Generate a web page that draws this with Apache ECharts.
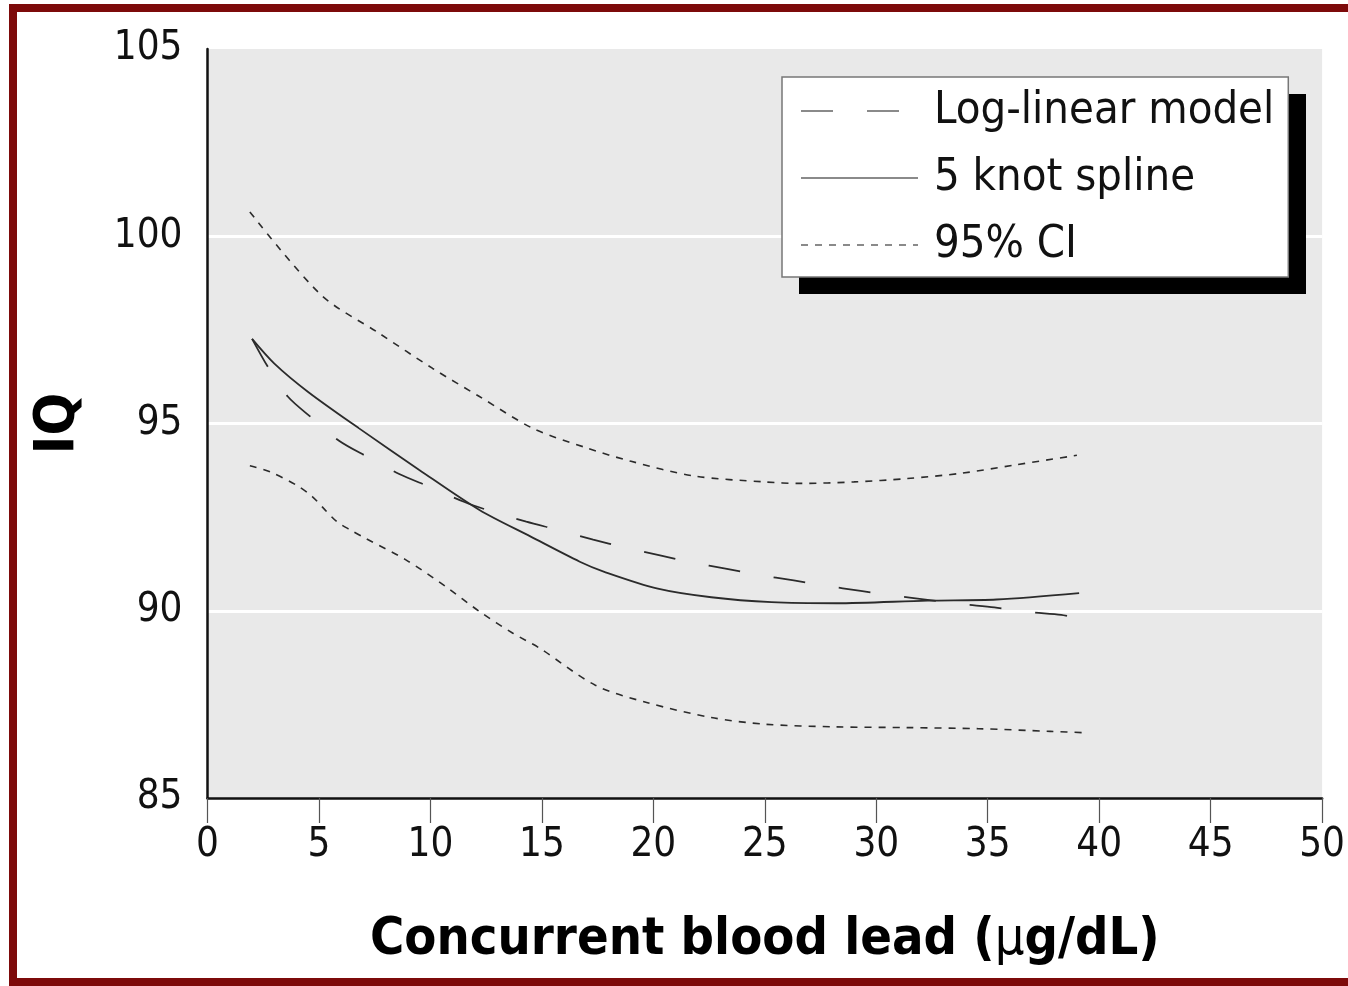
<!DOCTYPE html>
<html>
<head>
<meta charset="utf-8">
<title>IQ vs concurrent blood lead</title>
<script src="https://cdn.jsdelivr.net/npm/echarts@6/dist/echarts.min.js"></script>
<style>
  html, body { margin: 0; padding: 0; background: #fff; }
  #chart { width: 1348px; height: 986px; }
  .frame {
    position: absolute;
    left: 9px; top: 4px; width: 1339px; height: 982px;
    box-sizing: border-box;
    border-top: 8px solid #7d0a0a;
    border-left: 8px solid #7d0a0a;
    border-bottom: 8px solid #7d0a0a;
    pointer-events: none;
  }
</style>
</head>
<body>
<div id="chart"></div>
<div class="frame"></div>
<script>
// values
const splineX = [2, 3, 4.5, 6.8, 9.5, 12.2, 14.5, 16.7, 17.8, 20.2, 22.6, 25.3, 28.2, 32.3, 35.4, 39.1]
const splineY = [97.26, 96.6, 95.85, 94.87, 93.76, 92.69, 91.98, 91.31, 91.04, 90.59, 90.36, 90.23, 90.2, 90.27, 90.3, 90.47]

const logX = [2, 2.7, 3.6, 4.7, 5.9, 7.2, 8.6, 10, 11.5, 12.8, 14.3, 15.7, 17.3, 18.7, 20.3, 21.7, 23.3, 24.7, 26.3, 27.7, 29.3, 30.7, 32.3, 33.8, 35.3, 36.8, 38.3, 38.7]
const logY = [97.26, 96.52, 95.72, 95.14, 94.54, 94.1, 93.65, 93.3, 92.91, 92.64, 92.38, 92.16, 91.9, 91.69, 91.48, 91.29, 91.12, 90.96, 90.81, 90.67, 90.53, 90.41, 90.29, 90.18, 90.09, 89.97, 89.89, 89.84]

const upperX = [1.9, 5.1, 7.7, 10.1, 12.2, 14.6, 17, 19, 21.8, 25, 26.6, 29, 31.4, 33.8, 36.2, 39]
const upperY = [100.65, 98.43, 97.41, 96.47, 95.72, 94.87, 94.35, 93.99, 93.6, 93.44, 93.4, 93.44, 93.53, 93.67, 93.89, 94.15]

const lowerX = [1.9, 2.8, 4.0, 4.7, 5.2, 5.8, 6.4, 7.1, 8.9, 10.7, 12.2, 13.7, 14.9, 17.4, 19.7, 22.6, 25, 28.2, 31.4, 34.6, 37.8, 39.5]
const lowerY = [93.87, 93.71, 93.35, 93.05, 92.74, 92.38, 92.16, 91.93, 91.36, 90.64, 89.98, 89.4, 89.0, 88.01, 87.55, 87.15, 86.97, 86.9, 86.88, 86.85, 86.78, 86.74]

const legendNames = ['Log-linear model', '5 knot spline', '95% CI']

const narrow = '"Liberation Sans Narrow", "DejaVu Sans Condensed", "Arial Narrow", sans-serif'
const lineColor = '#2b2b2b'

function pairs(xs, ys) {
  return xs.map((x, i) => [x, ys[i]])
}

let chart = echarts.init(document.getElementById('chart'))
let option = {
  animation: false,
  backgroundColor: '#fff',
  grid: {
    left: 207.5,
    right: 25,
    top: 49,
    bottom: 188,
    show: true,
    backgroundColor: '#e9e9e9',
    borderWidth: 0
  },
  // drop shadow behind the legend box
  graphic: [
    {
      type: 'rect',
      z: 3,
      silent: true,
      shape: { x: 799, y: 94, width: 507, height: 200 },
      style: { fill: '#000' }
    }
  ],
  legend: {
    orient: 'vertical',
    left: 782,
    top: 77,
    z: 5,
    padding: [4, 14, 2, 18],
    itemGap: 7,
    itemWidth: 117,
    itemHeight: 14,
    backgroundColor: '#fff',
    borderColor: '#777',
    borderWidth: 1.5,
    data: legendNames,
    itemStyle: { opacity: 0, color: 'transparent', borderWidth: 0 },
    lineStyle: { color: '#8a8a8a', width: 2 },
    textStyle: {
      fontFamily: narrow,
      fontSize: 45,
      color: '#111',
      lineHeight: 60,
      padding: [0, 0, 0, 11]
    }
  },
  xAxis: {
    type: 'value',
    min: 0,
    max: 50,
    interval: 5,
    name: 'Concurrent blood lead ({mu|μ}g/dL)',
    nameLocation: 'middle',
    nameGap: 116,
    nameTextStyle: {
      fontFamily: narrow,
      fontSize: 52,
      fontWeight: 'bold',
      color: '#000',
      rich: {
        mu: { fontFamily: narrow, fontSize: 52, fontWeight: 'normal', color: '#000' }
      }
    },
    axisLine: { lineStyle: { color: '#111', width: 2.5 } },
    axisTick: { length: 25, lineStyle: { color: '#555', width: 1.2 } },
    axisLabel: { fontFamily: narrow, fontSize: 40, color: '#111', margin: 28 },
    splitLine: { show: false }
  },
  yAxis: {
    type: 'value',
    min: 85,
    max: 105,
    interval: 5,
    name: 'IQ',
    nameLocation: 'middle',
    nameGap: 121,
    nameTextStyle: { fontFamily: narrow, fontSize: 56, fontWeight: 'bold', color: '#000' },
    axisLine: { show: true, lineStyle: { color: '#111', width: 2.5 } },
    axisTick: { show: false },
    axisLabel: { fontFamily: narrow, fontSize: 40, color: '#111', margin: 25 },
    splitLine: {
      show: true,
      showMinLine: false,
      showMaxLine: false,
      lineStyle: { color: '#fff', width: 3 }
    }
  },
  series: [
    {
      name: legendNames[0],
      type: 'line',
      data: pairs(logX, logY),
      symbol: 'none',
      smooth: 0.3,
      lineStyle: { color: lineColor, width: 1.8, type: [32, 34] }
    },
    {
      name: legendNames[1],
      type: 'line',
      data: pairs(splineX, splineY),
      symbol: 'none',
      smooth: 0.3,
      lineStyle: { color: lineColor, width: 1.8, type: 'solid' }
    },
    {
      name: legendNames[2],
      type: 'line',
      data: pairs(upperX, upperY),
      symbol: 'none',
      smooth: 0.3,
      lineStyle: { color: lineColor, width: 1.6, type: [7, 7] }
    },
    {
      name: legendNames[2],
      type: 'line',
      data: pairs(lowerX, lowerY),
      symbol: 'none',
      smooth: 0.3,
      lineStyle: { color: lineColor, width: 1.6, type: [7, 7] }
    }
  ]
}
chart.setOption(option)
</script>
</body>
</html>
